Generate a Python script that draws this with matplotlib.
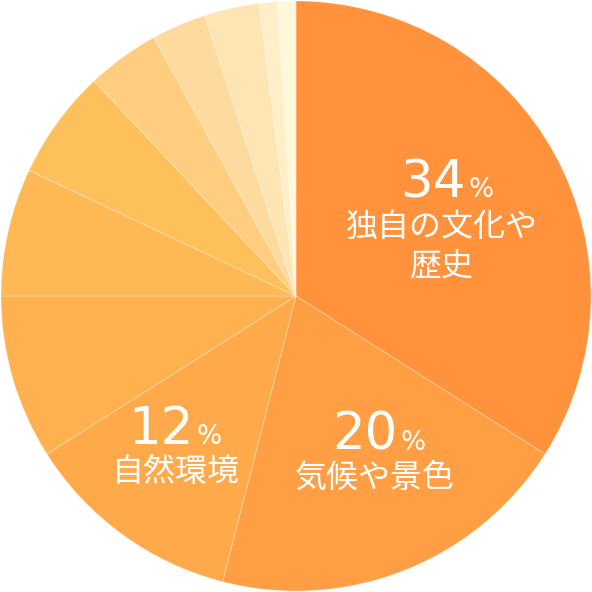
import numpy as np
from matplotlib import pyplot as plt

plt.rcParams['font.family'] = ['Noto Sans CJK JP', 'DejaVu Sans']

# slice shares (percent), clockwise from the top
shares = [34, 20, 12, 9, 7, 6, 4, 3, 3, 1, 1]
colors = ['#FF923A', '#FF9E42', '#FFAA4A', '#FFB14F', '#FEB955', '#FEC05B',
          '#FECD80', '#FEDA9F', '#FFE5B4', '#FFEFC9', '#FFF8DA']

# labels for the three biggest slices
pct_labels = ['34', '20', '12']
name_labels = ['独自の文化や\n歴史', '気候や景色', '自然環境']

W = 592
R = 295.0
CX, CY = 296.0, 296.0


def to_data(px, py):
    return (px - CX) / R, (CY - py) / R


fig = plt.figure(figsize=(W / 100, W / 100), dpi=100)
ax = fig.add_axes([0, 0, 1, 1])
ax.pie(shares, colors=colors, startangle=90, counterclock=False, radius=1.0,
       center=(0, 0),
       wedgeprops=dict(edgecolor=(1, 1, 1, 0.35), linewidth=0.6))
ax.set_xlim(-CX / R, (W - CX) / R)
ax.set_ylim(-(W - CY) / R, CY / R)
ax.set_aspect('equal')
ax.axis('off')

# pixel anchors of number (right edge / baseline) and name (centre)
num_pos = [(466, 197), (398, 450), (194, 444)]
name_pos = [(442, 247), (375, 478), (176, 472)]

for i in range(3):
    x, y = to_data(*num_pos[i])
    ax.text(x, y, pct_labels[i], color='white', fontsize=37, ha='right',
            va='baseline', family='DejaVu Sans')
    x2, _ = to_data(num_pos[i][0] + 2, num_pos[i][1])
    ax.text(x2, y, '%', color='white', fontsize=19, ha='left',
            va='baseline', family='DejaVu Sans')
    x, y = to_data(*name_pos[i])
    ax.text(x, y, name_labels[i], color='white', fontsize=23, ha='center',
            va='center', linespacing=1.35)

fig.savefig('out.png', dpi=100, facecolor='white')
